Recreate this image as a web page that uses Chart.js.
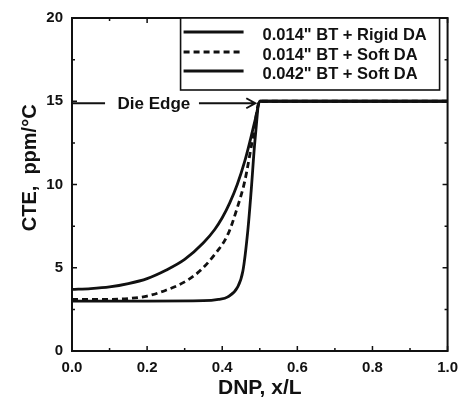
<!DOCTYPE html>
<html>
<head>
<meta charset="utf-8">
<script src="https://cdn.jsdelivr.net/npm/chart.js@4.4.0/dist/chart.umd.min.js"></script>
<style>
  html, body { margin: 0; padding: 0; background: #fff; }
  #wrap { width: 466px; height: 405px; }
</style>
</head>
<body>
<div id="wrap"><canvas id="myChart" width="466" height="405"></canvas></div>
<script>
// series data
const rigidX = [0, 0.05, 0.1, 0.15, 0.2, 0.25, 0.3, 0.35, 0.38, 0.4, 0.42, 0.44, 0.46, 0.475, 0.49, 0.5, 1.0];
const rigidY = [3.7, 3.75, 3.85, 4.05, 4.35, 4.85, 5.5, 6.5, 7.3, 8.0, 8.9, 10.0, 11.4, 12.7, 14.1, 15, 15];

const soft14X = [0, 0.1, 0.15, 0.2, 0.25, 0.3, 0.34, 0.38, 0.415, 0.44, 0.46, 0.48, 0.5, 1.0];
const soft14Y = [3.1, 3.1, 3.15, 3.3, 3.65, 4.15, 4.8, 5.8, 7.0, 8.6, 10.2, 12.6, 15, 15];

const soft42X = [0, 0.2, 0.35, 0.39, 0.415, 0.44, 0.455, 0.468, 0.477, 0.487, 0.5, 1.0];
const soft42Y = [3.0, 3.0, 3.02, 3.1, 3.25, 3.8, 4.8, 7.2, 9.6, 12.6, 15, 15];

const seriesLabels = ['0.014" BT + Rigid DA', '0.014" BT + Soft DA', '0.042" BT + Soft DA'];

const xMajor = [0, 0.2, 0.4, 0.6, 0.8, 1.0];
const xMinor = [0.1, 0.3, 0.5, 0.7, 0.9];
const yMajor = [0, 5, 10, 15, 20];
const yMinor = [2.5, 7.5, 12.5, 17.5];

const dieEdgeLabel = 'Die Edge';
const dieEdgeValue = 15;

function pts(xs, ys) {
  return xs.map((x, i) => ({x: x, y: ys[i]}));
}

const ink = '#111';

const data = {
  datasets: [{
    label: seriesLabels[0],
    data: pts(rigidX, rigidY),
    borderColor: ink,
    borderWidth: 2.8,
    pointRadius: 0,
    fill: false,
    cubicInterpolationMode: 'monotone'
  },{
    label: seriesLabels[1],
    data: pts(soft14X, soft14Y),
    borderColor: ink,
    borderWidth: 2.8,
    borderDash: [6, 4],
    pointRadius: 0,
    fill: false,
    cubicInterpolationMode: 'monotone'
  },{
    label: seriesLabels[2],
    data: pts(soft42X, soft42Y),
    borderColor: ink,
    borderWidth: 2.8,
    pointRadius: 0,
    fill: false,
    cubicInterpolationMode: 'monotone'
  }]
};

// frame, inward ticks, boxed legend and the die edge note
const extras = {
  id: 'extras',
  afterDatasetsDraw(chart) {
    const ctx = chart.ctx;
    const a = chart.chartArea;
    const xs = chart.scales.x, ys = chart.scales.y;
    ctx.save();
    ctx.strokeStyle = ink;
    ctx.lineWidth = 2;
    ctx.strokeRect(a.left, a.top, a.right - a.left, a.bottom - a.top);

    ctx.lineWidth = 1.5;
    function xt(v, len) {
      const p = xs.getPixelForValue(v);
      ctx.beginPath();
      ctx.moveTo(p, a.bottom); ctx.lineTo(p, a.bottom - len);
      ctx.moveTo(p, a.top); ctx.lineTo(p, a.top + len);
      ctx.stroke();
    }
    function yt(v, len) {
      const p = ys.getPixelForValue(v);
      ctx.beginPath();
      ctx.moveTo(a.left, p); ctx.lineTo(a.left + len, p);
      ctx.moveTo(a.right, p); ctx.lineTo(a.right - len, p);
      ctx.stroke();
    }
    xMajor.forEach(v => xt(v, 5));
    xMinor.forEach(v => xt(v, 3));
    yMajor.forEach(v => yt(v, 5));
    yMinor.forEach(v => yt(v, 3));

    // die edge annotation
    const ey = ys.getPixelForValue(dieEdgeValue) + 2;
    ctx.lineWidth = 2;
    ctx.beginPath();
    ctx.moveTo(a.left, ey);
    ctx.lineTo(xs.getPixelForValue(0.088), ey);
    ctx.stroke();
    ctx.font = 'bold 17px "Liberation Sans", Arial, sans-serif';
    ctx.fillStyle = ink;
    ctx.textAlign = 'center';
    ctx.textBaseline = 'middle';
    ctx.fillText(dieEdgeLabel, xs.getPixelForValue(0.218), ey + 1);
    const ax0 = xs.getPixelForValue(0.338), ax1 = xs.getPixelForValue(0.488);
    ctx.beginPath();
    ctx.moveTo(ax0, ey);
    ctx.lineTo(ax1, ey);
    ctx.moveTo(ax1 - 9, ey - 5);
    ctx.lineTo(ax1, ey);
    ctx.lineTo(ax1 - 9, ey + 5);
    ctx.stroke();

    // legend box
    const bx0 = a.right - 267, bx1 = a.right - 8, by0 = a.top, by1 = a.top + 72;
    ctx.fillStyle = '#fff';
    ctx.fillRect(bx0, by0, bx1 - bx0, by1 - by0);
    ctx.lineWidth = 1.6;
    ctx.strokeRect(bx0, by0, bx1 - bx0, by1 - by0);
    ctx.font = 'bold 16.5px "Liberation Sans", Arial, sans-serif';
    ctx.textAlign = 'left';
    ctx.fillStyle = ink;
    const rows = [15, 35, 54];
    chart.data.datasets.forEach((ds, i) => {
      const ry = by0 + rows[i];
      ctx.lineWidth = ds.borderWidth;
      ctx.setLineDash(ds.borderDash || []);
      ctx.beginPath();
      ctx.moveTo(bx0 + 3, ry - 1);
      ctx.lineTo(bx0 + 63, ry - 1);
      ctx.stroke();
      ctx.setLineDash([]);
      ctx.fillText(ds.label, bx0 + 82, ry + 2);
    });
    ctx.restore();
  }
};

const myChart = new Chart(document.getElementById('myChart'), {
  type: 'line',
  data: data,
  options: {
    responsive: false,
    animation: false,
    layout: { padding: { top: 15, right: 14, left: 0, bottom: 0 } },
    scales: {
      x: {
        type: 'linear',
        min: 0,
        max: 1,
        grid: { display: false, drawTicks: false },
        border: { display: false },
        ticks: {
          stepSize: 0.2,
          padding: 8,
          color: ink,
          font: { family: '"Liberation Sans", Arial, sans-serif', size: 15, weight: 'bold' },
          callback: v => v.toFixed(1)
        },
        title: {
          display: true,
          text: 'DNP, x/L',
          color: ink,
          padding: { top: 0, bottom: 4 },
          font: { family: '"Liberation Sans", Arial, sans-serif', size: 21, weight: 'bold' }
        },
        afterFit: s => { s.height = 54; }
      },
      y: {
        min: 0,
        max: 20,
        grid: { display: false, drawTicks: false },
        border: { display: false },
        ticks: {
          stepSize: 5,
          padding: 9,
          color: ink,
          font: { family: '"Liberation Sans", Arial, sans-serif', size: 15, weight: 'bold' }
        },
        title: {
          display: true,
          // leading spaces lift the centred title, as in the original
          text: '      CTE,  ppm/°C',
          color: ink,
          padding: { top: 18, bottom: 0 },
          font: { family: '"Liberation Sans", Arial, sans-serif', size: 20, weight: 'bold' }
        },
        afterFit: s => { s.width = 72; }
      }
    },
    plugins: {
      legend: { display: false },
      tooltip: { enabled: false }
    }
  },
  plugins: [extras]
});
</script>
</body>
</html>
